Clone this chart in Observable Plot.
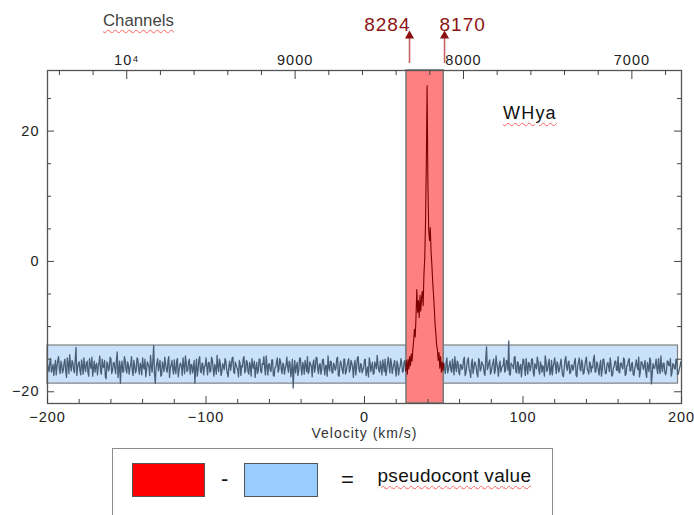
<!DOCTYPE html>
<html><head><meta charset="utf-8">
<script src="https://cdn.jsdelivr.net/npm/d3@7"></script>
<script src="https://cdn.jsdelivr.net/npm/@observablehq/plot@0.6"></script>
<style>
html,body{margin:0;padding:0;background:#fff;overflow:hidden}
#wrap{position:relative;width:694px;height:515px;font-family:"Liberation Sans",Arial,sans-serif}
#chart svg{display:block}
#chart svg text{letter-spacing:1px}
#chart svg g[aria-label="arrow label"] text{letter-spacing:0}
.wavy{position:absolute;line-height:1;white-space:nowrap;text-decoration:underline wavy #ff6060;text-decoration-thickness:1px;text-underline-offset:3px}
#legend{position:absolute;left:112px;top:448px;width:441px;height:90px;border:1.5px solid #8c8c8c;box-sizing:border-box;background:#fff}
#legend .sw{position:absolute;top:13.5px;height:34px;box-sizing:border-box;border:1.2px solid #555}
#legend .op{position:absolute;line-height:1;font-size:22px;color:#111}
</style></head>
<body><div id="wrap"><div id="chart"></div>
<div class="wavy" style="left:103px;top:12.8px;font-size:16.8px;color:#444">Channels</div>
<div class="wavy" style="left:503px;top:104px;font-size:18px;letter-spacing:1.2px;color:#111">WHya</div>
<div id="legend">
  <div class="sw" style="left:19px;width:73px;background:#ff0000"></div>
  <div class="op" style="left:108px;top:19px">-</div>
  <div class="sw" style="left:131px;width:74px;background:#99ccff"></div>
  <div class="op" style="left:228px;top:20px">=</div>
  <div class="wavy" style="left:264.5px;top:17px;font-size:19px;letter-spacing:0.3px;color:#111">pseudocont value</div>
</div>
</div>
<script>
// ---- data ----
// velocity axis (km/s)
const velMajor = [-200, -100, 0, 100, 200];
const yMajor = [-20, 0, 20];
// channel axis (top)
const chMajor = [10000, 9000, 8000, 7000];
const chLabels = ["10⁴", "9000", "8000", "7000"];
const CH0 = 10000, V0 = -150, DV = 0.10623; // channel 10000 sits at -150 km/s, 0.10623 km/s per channel
// line window (red) and continuum windows (blue)
const lineWindow = [26.5, 50.0];
const contStart = [-200, 50.0];
const contEnd = [26.5, 197.8];
const contLo = -18.75, contHi = -12.9;
// arrow markers
const arrowVel = [28.4, 50.5];
const arrowLabels = ["8284", "8170"];
// spectrum: left continuum, -200..26 km/s, values on whole km/s
const leftStart = -200, leftStep = 1;
const leftNoise = [
-15.8,-16.9,-14.9,-16.4,-17.5,-15.2,-16.1,-14.6,-17.2,-15.9,
-16.6,-15.0,-17.8,-15.6,-14.3,-16.8,-15.5,-17.1,-13.2,-16.3,
-15.4,-17.4,-16.0,-14.8,-16.9,-15.3,-17.6,-15.9,-14.7,-16.5,
-17.0,-15.6,-16.2,-14.5,-17.3,-16.1,-15.2,-18.0,-15.7,-16.4,
-14.9,-16.8,-15.5,-17.2,-13.9,-16.6,-18.7,-15.3,-16.9,-15.1,
-17.1,-15.8,-16.3,-14.6,-17.5,-15.9,-16.7,-15.0,-17.3,-16.0,
-14.8,-16.5,-17.7,-15.4,-16.2,-14.4,-17.0,-12.9,-18.7,-15.6,
-16.8,-15.2,-17.4,-16.1,-14.7,-16.6,-15.3,-17.8,-15.9,-16.4,
-15.1,-17.2,-14.9,-16.7,-15.6,-17.5,-16.0,-14.5,-16.9,-15.4,
-17.3,-15.8,-16.4,-18.7,-15.0,-16.6,-14.6,-17.1,-15.7,-16.2,
-14.8,-17.4,-15.5,-16.8,-15.1,-17.6,-16.3,-14.4,-16.9,-15.6,
-17.0,-16.1,-14.9,-16.5,-17.7,-15.3,-16.0,-14.7,-17.2,-15.9,
-16.6,-15.2,-17.5,-16.2,-14.6,-16.8,-15.4,-17.3,-16.0,-14.9,
-16.4,-17.8,-15.5,-16.7,-15.0,-17.1,-15.8,-16.3,-14.5,-17.4,
-15.7,-16.9,-15.1,-17.6,-16.2,-14.8,-16.6,-15.3,-17.2,-15.9,
-16.5,-14.7,-17.0,-15.6,-16.8,-19.4,-15.2,-16.1,-17.5,-14.9,
-16.4,-15.5,-17.3,-16.0,-14.6,-16.9,-15.8,-17.7,-15.1,-16.3,
-14.8,-17.2,-15.7,-16.6,-15.0,-17.4,-16.1,-14.5,-16.8,-15.4,
-17.1,-15.9,-16.4,-14.7,-17.6,-15.3,-16.7,-15.0,-17.3,-16.0,
-14.9,-16.5,-15.6,-17.8,-15.2,-16.3,-14.6,-17.0,-15.8,-16.6,
-15.1,-17.5,-16.2,-14.8,-16.9,-15.5,-17.2,-15.9,-14.4,-16.7,
-15.3,-17.4,-16.0,-15.0,-16.8,-14.7,-17.1,-15.6,-16.4,-15.2,
-17.6,-15.8,-16.5,-14.9,-17.0,-15.4,-16.8
];
// same continuum, values at the half km/s in between
const leftMid = [
-16.3,-15.4,-17.0,-15.8,-16.2,-17.4,-15.1,-16.6,-15.3,-17.1,
-15.5,-16.9,-14.8,-17.2,-16.0,-15.2,-16.7,-15.0,-17.5,-15.7,
-16.8,-15.1,-17.3,-16.2,-15.6,-17.0,-14.9,-16.4,-17.6,-15.3,
-16.0,-17.4,-15.5,-16.9,-15.0,-16.3,-17.7,-15.4,-16.8,-14.7,
-17.2,-15.6,-16.4,-15.1,-17.8,-15.3,-16.1,-17.0,-14.6,-16.6,
-15.4,-17.3,-15.9,-16.8,-15.2,-17.1,-14.8,-16.5,-15.6,-17.4,
-16.2,-15.0,-16.7,-15.8,-17.5,-16.0,-15.1,-17.2,-16.4,-14.9,
-16.0,-17.6,-15.4,-16.9,-15.7,-17.0,-14.6,-16.3,-15.2,-17.3,
-16.6,-15.3,-17.7,-15.9,-16.1,-14.8,-17.2,-15.5,-16.7,-15.0,
-15.9,-17.1,-15.2,-16.4,-17.6,-15.1,-16.8,-15.6,-17.4,-16.0,
-16.2,-15.5,-17.0,-14.7,-16.5,-15.8,-17.3,-16.1,-15.0,-17.5,
-15.7,-16.6,-15.3,-17.2,-15.9,-16.7,-14.8,-17.0,-15.4,-16.3,
-17.7,-15.6,-16.0,-14.9,-17.1,-15.2,-16.9,-15.5,-17.6,-16.1,
-15.3,-16.4,-17.2,-15.0,-16.8,-15.7,-14.6,-17.4,-16.0,-15.8,
-16.7,-15.1,-17.5,-16.3,-15.4,-17.0,-14.9,-16.6,-15.6,-17.3,
-15.9,-16.2,-15.3,-17.7,-15.0,-16.5,-17.1,-15.5,-16.8,-14.8,
-17.4,-16.0,-15.2,-16.9,-17.2,-15.4,-16.1,-15.7,-17.0,-14.7,
-16.6,-15.8,-17.3,-15.1,-16.4,-15.9,-17.6,-16.2,-15.3,-17.1,
-15.6,-16.7,-14.9,-17.5,-15.8,-16.0,-17.2,-15.0,-16.9,-15.5,
-17.0,-15.2,-16.3,-15.9,-17.4,-14.8,-16.6,-15.7,-17.1,-16.4,
-15.0,-16.8,-17.7,-15.5,-16.1,-17.3,-15.4,-16.5,-15.8,-17.0,
-16.2,-15.1,-16.9,-17.5,-15.6,-16.0,-14.9,-17.2,-15.8,-16.6,
-15.3,-17.4,-16.1,-15.7,-16.8,-15.2
];
// spectrum inside the line window, 26..50 km/s, 0.5 km/s step
const lineStart = 26, lineStep = 0.5;
const lineVals = [
-16.8,-15.2,-17.3,-15.0,-16.5,-14.6,-16.0,-14.2,-15.3,-13.5,
-12.2,-10.4,-11.6,-8.5,-4.3,-7.8,-6.0,-8.6,-5.2,-7.6,
-5.6,-4.6,-6.8,-2.0,0.5,6.0,15.0,27.0,12.0,5.0,
3.2,5.2,1.5,-0.5,-3.0,-5.0,-7.0,-9.5,-11.0,-12.8,
-13.5,-15.2,-14.0,-16.4,-14.6,-17.0,-15.4,-16.8,-15.6
];
// spectrum: right continuum, 50..200 km/s, values on whole km/s
const rightStart = 50, rightStep = 1;
const rightNoise = [
-15.6,-17.2,-14.8,-16.5,-15.3,-17.0,-16.1,-14.6,-16.9,-15.5,
-17.4,-15.9,-16.3,-14.7,-17.1,-15.2,-16.6,-17.8,-15.0,-16.4,
-15.7,-17.3,-14.9,-16.8,-15.4,-16.0,-17.5,-13.1,-16.2,-15.1,
-16.9,-15.6,-17.2,-14.5,-16.4,-15.8,-17.0,-16.1,-14.8,-16.7,
-15.3,-12.2,-17.4,-15.9,-16.5,-14.6,-17.1,-15.5,-16.3,-17.7,
-15.0,-16.6,-14.9,-17.3,-15.7,-16.2,-15.1,-17.6,-16.0,-14.7,
-16.8,-15.4,-17.0,-16.3,-14.5,-16.9,-15.6,-17.4,-15.2,-16.1,
-14.8,-17.2,-15.8,-16.6,-15.0,-17.5,-16.4,-14.6,-16.7,-15.3,
-17.1,-15.9,-16.2,-14.9,-17.7,-15.5,-16.5,-15.1,-17.3,-16.0,
-14.7,-16.8,-15.4,-17.0,-16.3,-14.4,-16.9,-15.7,-17.4,-15.2,
-16.6,-15.0,-17.2,-15.8,-16.1,-14.8,-17.6,-16.4,-15.3,-16.7,
-14.6,-17.1,-15.6,-16.5,-15.1,-17.3,-16.0,-14.9,-16.8,-15.5,
-17.5,-15.9,-16.2,-14.7,-17.0,-15.4,-16.6,-15.2,-17.8,-16.1,
-14.8,-18.8,-15.7,-16.4,-15.0,-17.2,-16.3,-14.5,-16.9,-15.6,
-17.4,-15.3,-16.0,-14.9,-17.1,-15.8,-16.5,-15.1,-17.3,-16.2,
-16.0
];
// same continuum, values at the half km/s in between
const rightMid = [
-16.4,-15.5,-17.1,-15.9,-16.7,-15.0,-17.4,-16.2,-15.3,-17.0,
-15.8,-16.6,-15.1,-17.5,-16.0,-14.8,-16.9,-15.6,-17.2,-15.4,
-16.3,-17.7,-15.2,-16.5,-15.8,-17.1,-14.9,-16.6,-15.5,-17.3,
-16.1,-15.0,-16.8,-15.7,-17.6,-15.3,-16.4,-15.9,-17.0,-15.2,
-16.7,-17.4,-15.6,-16.0,-14.7,-16.9,-15.4,-17.2,-15.8,-16.3,
-15.1,-17.5,-16.2,-15.5,-16.8,-14.9,-17.1,-15.7,-16.5,-15.3,
-17.3,-15.9,-16.0,-17.6,-15.2,-16.6,-15.0,-16.9,-17.4,-15.6,
-16.1,-15.4,-17.0,-15.8,-16.4,-17.7,-15.1,-16.2,-15.5,-17.2,
-15.9,-16.7,-15.3,-17.5,-16.0,-14.8,-16.8,-15.6,-17.1,-15.2,
-16.5,-17.3,-15.7,-16.1,-14.9,-17.0,-15.4,-16.6,-15.9,-17.6,
-15.0,-16.3,-17.2,-15.5,-16.9,-15.8,-17.4,-16.1,-15.3,-16.7,
-17.0,-15.6,-16.2,-14.8,-17.5,-16.0,-15.2,-16.8,-15.7,-17.3,
-16.4,-15.1,-16.6,-17.7,-15.4,-16.0,-15.9,-17.1,-15.5,-16.9,
-15.2,-17.4,-16.3,-15.8,-16.5,-14.9,-17.2,-16.1,-15.6,-17.0,
-16.8,-15.3,-16.0,-17.6,-15.7,-16.4,-15.0,-17.3,-16.6,-15.4
];

// ---- layout ----
const W = 694, H = 448, mL = 47, mR = 13, mT = 70, mB = 45;
const innerW = W - mL - mR, innerH = H - mT - mB;
const chToVel = ch => V0 + (CH0 - ch) * DV;
const velMinor = d3.range(-200, 201, 20).filter(v => v % 100 !== 0);
const yMinor = d3.range(-20, 30, 5).filter(v => v % 20 !== 0);
const chMinor = d3.range(6800, 10500, 200).filter(c => c % 1000 !== 0);
const windows = contStart.map((s, i) => ({x1: s, x2: contEnd[i]}));
const arrows = arrowVel.map((v, i) => ({v, label: arrowLabels[i]}));
const merge = (whole, mid, start, step) => d3.sort(
  whole.map((y, i) => ({v: start + i * step, y})).concat(mid.map((y, i) => ({v: start + (i + 0.5) * step, y}))),
  d => d.v);
const leftPts = merge(leftNoise, leftMid, leftStart, leftStep);
const rightPts = merge(rightNoise, rightMid, rightStart, rightStep);
const axisColor = "#444";
const noiseColor = "#4a5f76";

const chart = Plot.plot({
  width: W, height: H,
  marginLeft: mL, marginRight: mR, marginTop: mT, marginBottom: mB,
  x: {domain: [-200, 200], label: null},
  y: {domain: [-21.8, 29.3], label: null},
  style: {fontFamily: "Liberation Sans, Arial, sans-serif", fontSize: "14.5px", color: "#222", background: "#fff", overflow: "visible"},
  marks: [
    // continuum windows
    Plot.rect(windows, {x1: "x1", x2: "x2", y1: contLo, y2: contHi, fill: "#c9e1fb", stroke: "#808080", strokeWidth: 1.2}),
    // line window
    Plot.rect([lineWindow], {x1: d => d[0], x2: d => d[1], fill: "#ff8080", stroke: "#777", strokeWidth: 1.5}),
    // spectrum
    Plot.line(leftPts, {x: "v", y: "y", stroke: noiseColor, strokeWidth: 1.3}),
    Plot.line(rightPts, {x: "v", y: "y", stroke: noiseColor, strokeWidth: 1.3}),
    Plot.line(lineVals, {x: (d, i) => lineStart + i * lineStep, y: d => d, stroke: "#7b0000", strokeWidth: 1.1}),
    // frame
    Plot.frame({stroke: "#555", strokeWidth: 1.3}),
    // inner ticks: bottom
    Plot.ruleX(velMajor, {x: d => d, insetTop: innerH - 7, stroke: axisColor}),
    Plot.ruleX(velMinor, {x: d => d, insetTop: innerH - 4, stroke: axisColor}),
    // inner ticks: top (channels)
    Plot.ruleX(chMajor, {x: chToVel, insetBottom: innerH - 9, stroke: axisColor}),
    Plot.ruleX(chMinor, {x: chToVel, insetBottom: innerH - 5, stroke: axisColor}),
    // inner ticks: left / right
    Plot.ruleY(yMajor, {y: d => d, insetRight: innerW - 7, stroke: axisColor}),
    Plot.ruleY(yMinor, {y: d => d, insetRight: innerW - 4, stroke: axisColor}),
    Plot.ruleY(yMajor, {y: d => d, insetLeft: innerW - 7, stroke: axisColor}),
    Plot.ruleY(yMinor, {y: d => d, insetLeft: innerW - 4, stroke: axisColor}),
    // tick labels
    Plot.axisX({ticks: velMajor, tickSize: 0, tickPadding: 8, tickFormat: d3.format("d"), label: null}),
    Plot.axisY({ticks: yMajor, tickSize: 0, tickPadding: 8, tickFormat: d3.format("d"), label: null}),
    Plot.text(chMajor, {x: chToVel, text: (d, i) => chLabels[i], frameAnchor: "top", dy: -16, fill: "#222"}),
    Plot.text(["Velocity (km/s)"], {text: d => d, frameAnchor: "bottom", dy: 34, fontSize: 14, fill: "#333"}),
    // arrows
    Plot.ruleX(arrows, {x: "v", insetTop: -32, insetBottom: innerH + 7, stroke: "#c86464", strokeWidth: 1.6}),
    Plot.dot(arrows, {x: "v", frameAnchor: "top", dy: -34.7, symbol: "triangle", r: 3.4, fill: "#8b1010", stroke: "none"}),
    Plot.text(arrows.slice(0, 1), {x: "v", text: "label", frameAnchor: "top", dy: -53, dx: 1, textAnchor: "end", fontSize: 19, fontFamily: "Liberation Sans", fill: "#8b1414", ariaLabel: "arrow label"}),
    Plot.text(arrows.slice(1), {x: "v", text: "label", frameAnchor: "top", dy: -53, dx: -5, textAnchor: "start", fontSize: 19, fontFamily: "Liberation Sans", fill: "#8b1414", ariaLabel: "arrow label"})
  ]
});
document.getElementById("chart").appendChild(chart);
</script>
</body></html>
